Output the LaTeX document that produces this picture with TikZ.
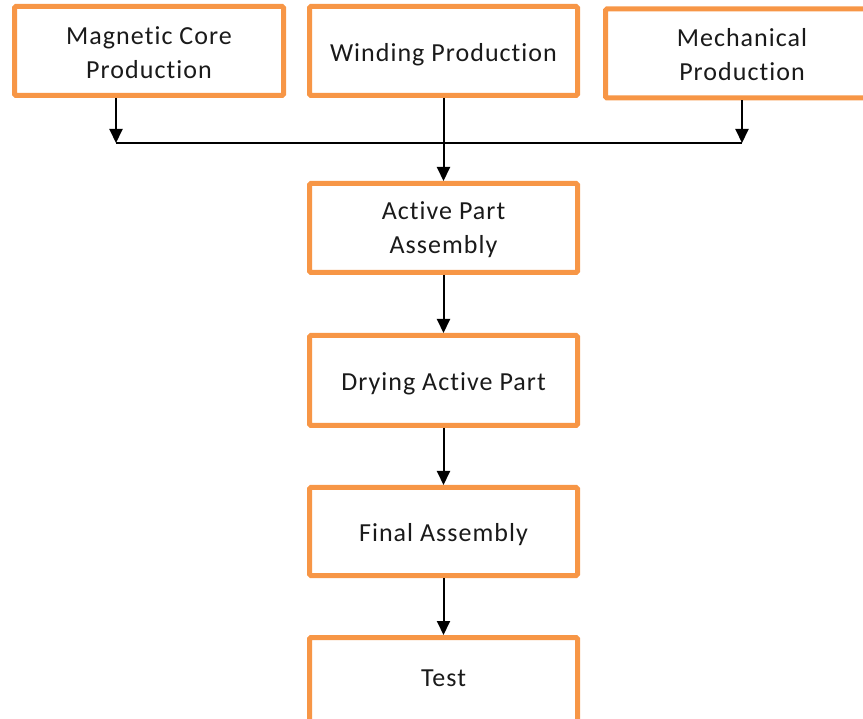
\documentclass[tikz,border=0pt]{standalone}
\usepackage{fontspec}
\setmainfont{Carlito}[LetterSpace=4,Ligatures=NoCommon]
\usetikzlibrary{arrows.meta}
\definecolor{boxorange}{HTML}{F79646}
\definecolor{txt}{HTML}{1A1A1A}
% invisible struts that set the text a little lower / higher in its box
\newcommand\capstrut{\rule{0pt}{25pt}}
\newcommand\pairstrut{\rule{0pt}{21pt}}
\newcommand\footstrut{\rule[-6pt]{0pt}{6pt}}
\begin{document}
\begin{tikzpicture}[x=1pt,y=-1pt,
  stepbox/.style={draw=boxorange,line width=5pt,fill=white,rounded corners=1.5pt,
    minimum width=268pt,minimum height=89pt,inner sep=0pt,align=center,
    text=txt,font=\fontsize{26}{34}\selectfont},
  flow/.style={line width=2pt,-{Triangle[width=13pt,length=14pt]}},
  link/.style={line width=2pt}]
\useasboundingbox (0,0) rectangle (863,719);
\begin{scope}
\clip (0,0) rectangle (863,719);
% production lines
\node[stepbox,minimum width=269pt] (mag) at (149,51) {\pairstrut Magnetic Core\\Production};
\node[stepbox] (wind) at (443.5,51) {\capstrut Winding Production};
\node[stepbox,minimum width=273pt] (mech) at (742,53.5) {\pairstrut Mechanical\\Production};
% main sequence
\node[stepbox] (act) at (443.5,228) {\pairstrut Active Part\\Assembly};
\node[stepbox,minimum height=90pt] (dry) at (443.5,380.5) {\capstrut Drying Active Part};
\node[stepbox,minimum height=88pt] (fin) at (443.5,531.5) {\capstrut Final Assembly};
\node[stepbox,minimum height=87pt] (test) at (443.5,681) {Test\footstrut};
\end{scope}
% collector line
\coordinate (jl) at (116,143);
\coordinate (jr) at (742,143);
\draw[link] (jl) -- (jr);
\draw[flow] (mag.south -| jl) -- (jl);
\draw[flow] (mech.south -| jr) -- (jr);
\draw[flow] (wind.south) -- (act.north);
\draw[flow] (act) -- (dry);
\draw[flow] (dry) -- (fin);
\draw[flow] (fin) -- (test);
\end{tikzpicture}
\end{document}
